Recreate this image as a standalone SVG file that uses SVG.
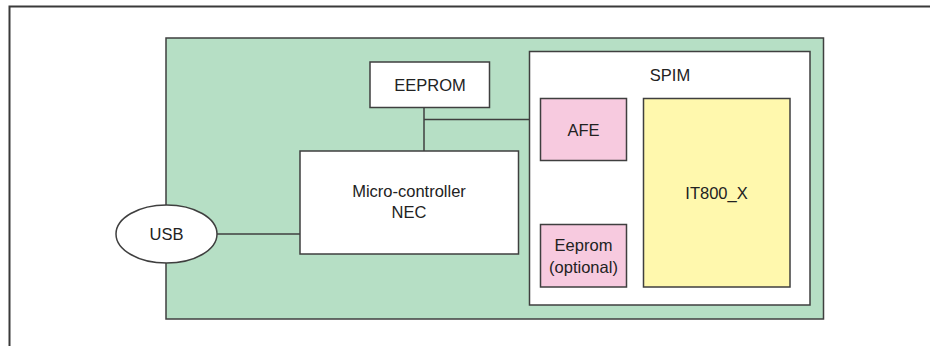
<svg xmlns="http://www.w3.org/2000/svg" width="930" height="346" viewBox="0 0 930 346">
  <style>
    .box { stroke: #3f3f3f; stroke-width: 1.5; }
    .board { fill: #b6dfc5; }
    .white { fill: #ffffff; }
    .pink { fill: #f7cadf; }
    .yellow { fill: #fff8ad; }
    .lbl { font-family: "Liberation Sans", Arial, sans-serif; font-size: 16.5px; fill: #222222; text-anchor: middle; dominant-baseline: central; }
    .wire { stroke: #3f3f3f; stroke-width: 1.5; fill: none; }
  </style>
  <rect width="930" height="346" fill="#ffffff"/>

  <!-- outer frame -->
  <path d="M9.5 346 V6.5 H930" fill="none" stroke="#3a3a3a" stroke-width="2"/>

  <!-- board -->
  <g id="board">
    <rect class="box board" x="166" y="38" width="657.5" height="281"/>
  </g>

  <!-- connectors -->
  <g id="connectors">
    <line class="wire" x1="424" y1="107" x2="424" y2="151"/>
    <line class="wire" x1="424" y1="119.5" x2="529.5" y2="119.5"/>
    <line class="wire" x1="217" y1="234" x2="300" y2="234"/>
  </g>

  <g id="eeprom">
    <rect class="box white" x="370" y="62" width="119.5" height="45.5"/>
    <text class="lbl" x="430" y="84.5">EEPROM</text>
  </g>

  <g id="mcu">
    <rect class="box white" x="300" y="151" width="218.5" height="103"/>
    <text class="lbl" x="409" y="191">Micro-controller</text>
    <text class="lbl" x="409" y="212">NEC</text>
  </g>

  <g id="usb">
    <ellipse class="box white" cx="166.5" cy="234" rx="50.5" ry="29"/>
    <text class="lbl" x="166.5" y="234">USB</text>
  </g>

  <g id="spim">
    <rect class="box white" x="529.5" y="51.5" width="280.5" height="253.5"/>
    <text class="lbl" x="670" y="75">SPIM</text>
  </g>

  <g id="afe">
    <rect class="box pink" x="540.5" y="98.5" width="86" height="62"/>
    <text class="lbl" x="583.5" y="129.5">AFE</text>
  </g>

  <g id="eeprom-opt">
    <rect class="box pink" x="540.5" y="224.5" width="86" height="62.5"/>
    <text class="lbl" x="583.5" y="245">Eeprom</text>
    <text class="lbl" x="583.5" y="267">(optional)</text>
  </g>

  <g id="it800">
    <rect class="box yellow" x="643.5" y="98.5" width="146.5" height="188.5"/>
    <text class="lbl" x="716.5" y="192.5">IT800_X</text>
  </g>
</svg>
